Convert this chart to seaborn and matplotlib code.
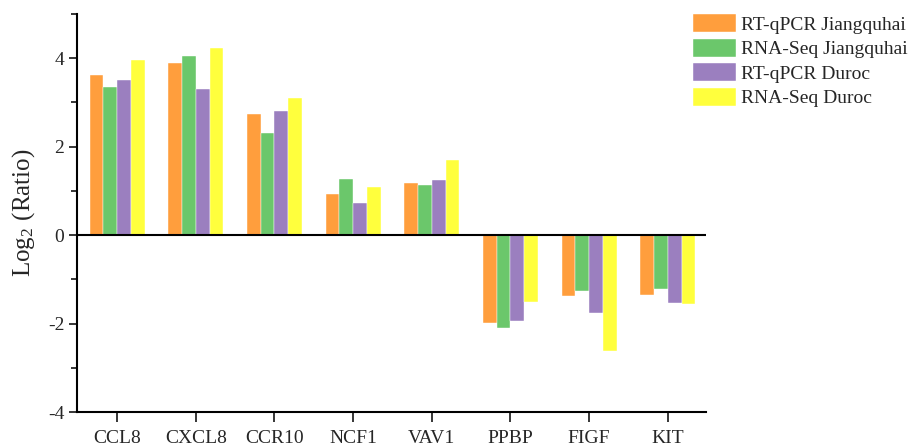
import numpy as np
import pandas as pd
import matplotlib
matplotlib.use("Agg")
import matplotlib.pyplot as plt
import seaborn as sns
from matplotlib.ticker import MultipleLocator

# data
genes = ["CCL8", "CXCL8", "CCR10", "NCF1", "VAV1", "PPBP", "FIGF", "KIT"]
groups = ["RT-qPCR Jiangquhai", "RNA-Seq Jiangquhai", "RT-qPCR Duroc", "RNA-Seq Duroc"]
rtqpcr_jqh = [3.62, 3.90, 2.73, 0.93, 1.18, -1.98, -1.37, -1.35]
rnaseq_jqh = [3.35, 4.04, 2.31, 1.27, 1.14, -2.10, -1.27, -1.22]
rtqpcr_duroc = [3.50, 3.30, 2.81, 0.72, 1.24, -1.94, -1.75, -1.53]
rnaseq_duroc = [3.95, 4.23, 3.10, 1.08, 1.70, -1.52, -2.61, -1.55]
colors = ["#FF9E3D", "#6BC76B", "#9B7FBF", "#FFFF3D"]

df = pd.DataFrame({
    "gene": genes * 4,
    "group": [g for g in groups for _ in genes],
    "value": rtqpcr_jqh + rnaseq_jqh + rtqpcr_duroc + rnaseq_duroc,
})

sns.set_style("white")
plt.rcParams["font.family"] = ["Liberation Serif", "DejaVu Serif"]
plt.rcParams["mathtext.fontset"] = "stix"

fig = plt.figure(figsize=(9.11, 4.47), dpi=100)
ax = fig.add_axes([0.0845, 0.078, 0.69, 0.891])

sns.barplot(data=df, x="gene", y="value", hue="group", hue_order=groups,
            order=genes, palette=colors, saturation=1, width=0.7,
            edgecolor="white", linewidth=0.3, errorbar=None, ax=ax)

ax.axhline(0, color="black", lw=1.5, zorder=5)
ax.set_xlim(-0.51, 7.48)
ax.set_ylim(-4, 5)
ax.yaxis.set_minor_locator(MultipleLocator(1))
ax.set_yticks([-4, -2, 0, 2, 4])
ax.set_yticklabels(["-4", "-2", "0", "2", "4"])
ax.tick_params(axis="y", which="major", direction="out", length=6, width=1.3,
               left=True, labelsize=14, pad=3)
ax.tick_params(axis="y", which="minor", direction="out", length=4, width=1.3, left=True)
ax.tick_params(axis="x", direction="out", length=7, width=1.3, bottom=True,
               labelsize=14, pad=6)
for s in ["top", "right"]:
    ax.spines[s].set_visible(False)
for s in ["left", "bottom"]:
    ax.spines[s].set_color("black")
    ax.spines[s].set_linewidth(1.5)

ax.set_xlabel("")
ax.set_ylabel("Log$_\\mathregular{2}$ (Ratio)", fontsize=18, labelpad=8)

ax.legend(loc="upper left", bbox_to_anchor=(693 / 911, 1 - 14 / 447),
          bbox_transform=fig.transFigure, frameon=False,
          fontsize=14, handlelength=2.2, handleheight=1.05, labelspacing=0.25,
          handletextpad=0.25, borderaxespad=0, borderpad=0)

fig.savefig("out.png", dpi=100)
